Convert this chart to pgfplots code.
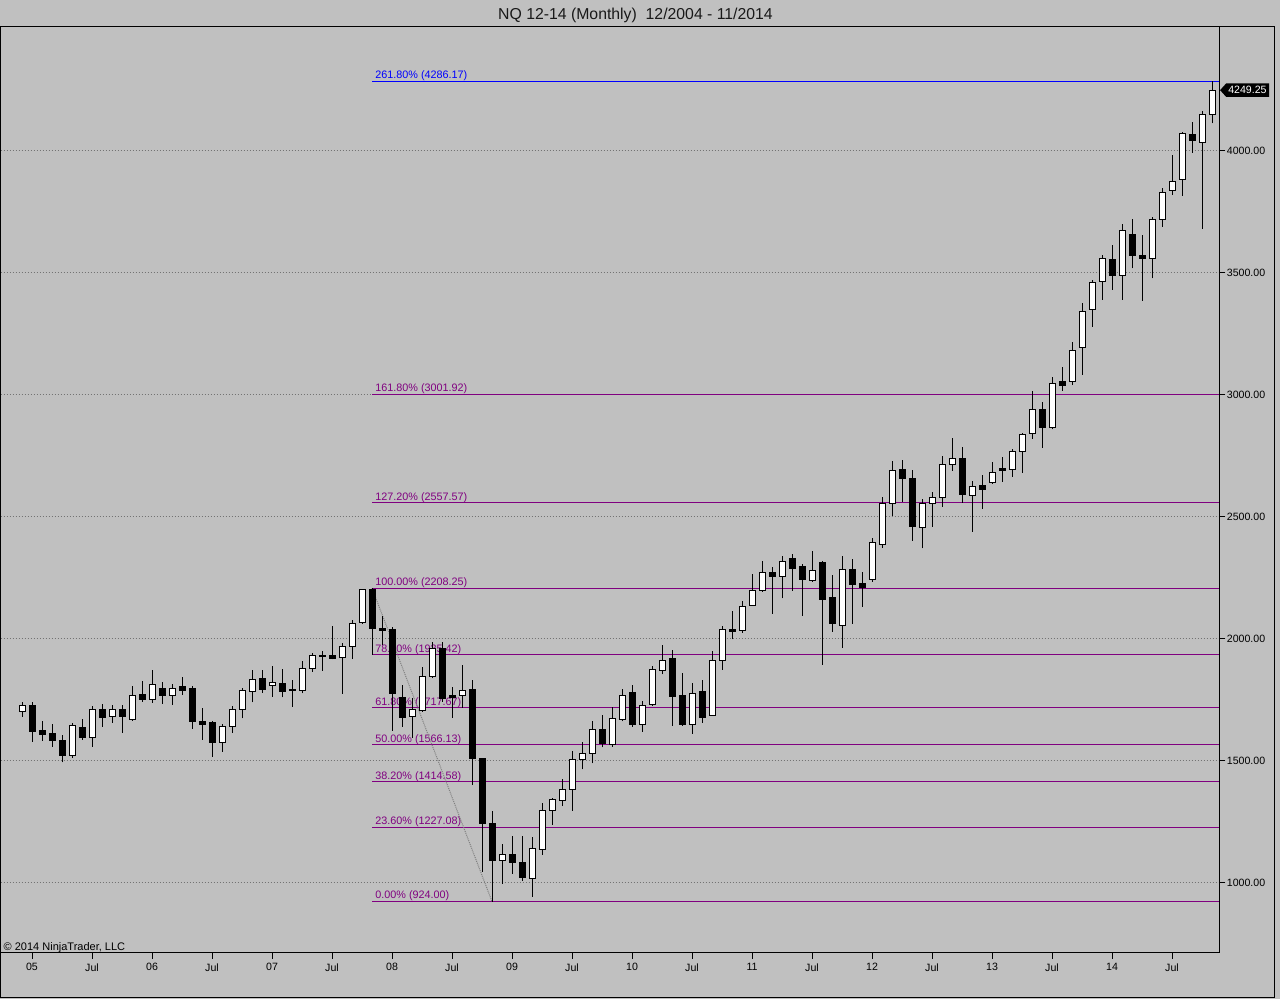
\documentclass[border=0pt]{standalone}
\usepackage{pgfplots}
\usepackage{pgfplotstable}
\pgfplotsset{compat=1.18}
\usepackage{fontspec}
\setmainfont{Liberation Sans}
\definecolor{bg}{RGB}{192,192,192}
\definecolor{fibpurple}{RGB}{128,0,128}
\definecolor{fibblue}{RGB}{0,0,255}
\pgfplotstableread{
i o h l c
0 1703.7 1741.8 1681.5 1725.4
1 1725.4 1741.8 1579.1 1620.0
2 1622.9 1663.9 1583.2 1607.8
3 1610.6 1651.6 1558.6 1583.2
4 1586.0 1606.5 1494.6 1521.7
5 1521.7 1655.7 1513.5 1643.4
6 1638.1 1672.1 1586.0 1595.5
7 1597.1 1725.4 1558.6 1709.0
8 1711.9 1733.6 1640.5 1679.1
9 1683.2 1728.3 1656.9 1709.0
10 1711.9 1728.3 1616.0 1681.5
11 1670.9 1807.4 1663.9 1769.2
12 1773.3 1827.8 1741.8 1750.0
13 1752.8 1872.9 1738.9 1815.5
14 1797.9 1823.7 1733.6 1767.6
15 1769.2 1816.8 1730.7 1797.9
16 1803.3 1844.2 1771.7 1788.1
17 1795.1 1807.4 1632.3 1661.0
18 1661.0 1718.4 1586.0 1650.4
19 1656.9 1665.1 1517.6 1575.0
20 1575.0 1651.6 1538.1 1642.2
21 1642.2 1725.4 1616.0 1711.9
22 1711.9 1799.2 1675.0 1786.9
23 1785.6 1872.9 1740.5 1834.8
24 1836.0 1872.9 1779.9 1793.8
25 1810.2 1889.3 1763.5 1822.5
26 1818.4 1877.0 1761.0 1784.0
27 1791.0 1831.9 1722.5 1786.9
28 1789.7 1911.0 1777.4 1879.9
29 1878.3 1941.4 1866.0 1933.2
30 1933.2 1950.8 1870.1 1927.4
31 1930.3 2053.3 1916.8 1918.0
32 1925.0 1982.4 1774.6 1968.4
33 1970.1 2077.8 1919.2 2064.3
34 2066.8 2204.9 2061.5 2203.7
35 2203.7 2208.25 1934.4 2042.2
36 2043.8 2094.2 1975.4 2035.6
37 2039.7 2047.9 1624.2 1774.6
38 1759.4 1811.4 1640.5 1679.1
39 1680.3 1759.4 1595.5 1711.9
40 1707.8 1886.5 1702.0 1845.5
41 1845.5 1988.9 1838.9 1959.0
42 1961.9 1988.9 1743.0 1756.9
43 1766.4 1804.5 1677.4 1761.0
44 1769.2 1893.4 1718.4 1788.1
45 1791.0 1831.9 1401.6 1509.4
46 1508.2 1510.0 1046.3 1241.8
47 1244.6 1295.1 924.0 1091.4
48 1094.2 1159.8 995.9 1117.6
49 1117.6 1192.6 1036.9 1083.2
50 1084.8 1192.6 1009.4 1023.3
51 1019.2 1189.7 943.8 1142.2
52 1135.2 1326.6 1114.7 1299.1
53 1296.3 1349.6 1237.7 1343.0
54 1337.3 1426.2 1315.5 1384.0
55 1384.0 1541.0 1296.3 1506.9
56 1506.9 1576.6 1466.0 1531.5
57 1531.5 1663.9 1490.5 1627.0
58 1627.0 1688.5 1556.1 1570.9
59 1568.4 1720.0 1558.6 1675.0
60 1670.9 1795.1 1662.7 1769.2
61 1779.8 1811.4 1640.5 1647.5
62 1650.4 1745.9 1618.8 1728.3
63 1732.4 1889.3 1725.4 1872.9
64 1871.7 1975.4 1855.3 1912.7
65 1918.0 1954.9 1644.6 1763.5
66 1766.4 1859.4 1643.4 1647.5
67 1650.4 1818.4 1610.6 1777.4
68 1782.8 1831.9 1656.9 1679.1
69 1685.6 1950.8 1684.4 1912.7
70 1912.7 2053.3 1872.9 2039.7
71 2039.7 2114.7 1998.7 2030.7
72 2032.8 2155.7 2024.6 2134.0
73 2138.1 2266.4 2135.2 2196.7
74 2197.9 2319.7 2193.8 2270.5
75 2270.5 2296.3 2103.7 2256.9
76 2256.9 2341.4 2166.8 2318.4
77 2327.8 2348.3 2197.9 2288.1
78 2295.1 2306.1 2094.2 2243.0
79 2240.6 2360.6 2234.8 2281.5
80 2311.5 2320.9 1893.4 2161.0
81 2168.0 2263.5 2029.9 2062.7
82 2054.5 2341.4 1964.3 2285.6
83 2282.8 2327.8 2062.7 2222.5
84 2225.4 2274.6 2132.4 2210.2
85 2243.0 2412.7 2234.8 2396.3
86 2388.1 2583.2 2372.9 2554.5
87 2554.5 2729.5 2505.3 2691.4
88 2695.5 2733.6 2561.5 2656.9
89 2658.6 2692.6 2402.8 2460.2
90 2457.8 2573.8 2371.7 2554.5
91 2556.1 2602.4 2460.2 2580.7
92 2580.7 2750.0 2542.2 2716.0
93 2716.0 2822.5 2688.5 2740.6
94 2740.6 2788.1 2558.6 2591.4
95 2586.0 2647.5 2439.7 2624.2
96 2627.0 2670.9 2532.8 2611.9
97 2642.2 2725.4 2635.2 2683.2
98 2696.7 2745.9 2644.6 2689.7
99 2695.5 2778.7 2665.1 2769.2
100 2769.2 2845.5 2681.5 2838.9
101 2843.0 3016.4 2820.9 2941.4
102 2941.4 2970.1 2784.0 2867.6
103 2866.0 3073.8 2859.4 3047.9
104 3056.1 3116.0 3017.6 3038.1
105 3054.5 3217.2 3041.0 3183.2
106 3195.5 3377.0 3082.0 3343.0
107 3351.2 3471.3 3279.9 3461.9
108 3464.3 3573.8 3389.3 3560.2
109 3553.3 3614.7 3430.3 3489.7
110 3489.7 3700.8 3389.3 3675.0
111 3655.7 3721.3 3518.4 3571.7
112 3569.7 3655.7 3385.2 3558.6
113 3560.2 3730.7 3478.3 3720.1
114 3720.1 3847.1 3689.7 3830.7
115 3838.9 3983.6 3819.7 3874.2
116 3884.0 4079.1 3816.8 4072.5
117 4068.4 4117.6 3993.0 4042.2
118 4035.6 4165.2 3680.3 4150.4
119 4150.4 4286.17 4113.5 4249.25
}\candles
\begin{document}
\begin{tikzpicture}
\useasboundingbox (0,0) rectangle (640pt,499.5pt);
\fill[bg] (0,0) rectangle (640pt,499.5pt);
\begin{axis}[
  at={(0.35pt,23pt)}, anchor=south west,
  scale only axis, width=609.3pt, height=463.15pt,
  xmin=-2.13, xmax=119.73, ymin=713.1, ymax=4509.4,
  axis line style={black, line width=0.5pt},
  xtick={1,7,...,115},
  xticklabels={05,Jul,06,Jul,07,Jul,08,Jul,09,Jul,10,Jul,11,Jul,12,Jul,13,Jul,14,Jul},
  ytick={1000,1500,...,4000},
  yticklabels={1000.00,1500.00,2000.00,2500.00,3000.00,3500.00,4000.00},
  xtick pos=bottom, ytick pos=right, yticklabel pos=right,
  tick align=outside, major tick length=3pt,
  tick style={black, line width=0.5pt},
  ymajorgrids,
  grid style={black!55, line width=0.5pt, dash pattern=on 0.5pt off 1pt},
  ticklabel style={font=\fontsize{5.3pt}{6pt}\selectfont, text=black},
  xticklabel style={inner sep=0pt, yshift=-2pt},
  yticklabel style={inner sep=0pt, xshift=0.6pt},
  clip=false,
]
% Fibonacci levels
\addplot [fibblue, line width=0.5pt] coordinates {(35.03,4286.17) (119.73,4286.17)};
\addplot [fibpurple, line width=0.5pt] coordinates {(35.03,3001.92) (119.73,3001.92)};
\addplot [fibpurple, line width=0.5pt] coordinates {(35.03,2557.57) (119.73,2557.57)};
\addplot [fibpurple, line width=0.5pt] coordinates {(35.03,2208.25) (119.73,2208.25)};
\addplot [fibpurple, line width=0.5pt] coordinates {(35.03,1935.42) (119.73,1935.42)};
\addplot [fibpurple, line width=0.5pt] coordinates {(35.03,1717.67) (119.73,1717.67)};
\addplot [fibpurple, line width=0.5pt] coordinates {(35.03,1566.13) (119.73,1566.13)};
\addplot [fibpurple, line width=0.5pt] coordinates {(35.03,1414.58) (119.73,1414.58)};
\addplot [fibpurple, line width=0.5pt] coordinates {(35.03,1227.08) (119.73,1227.08)};
\addplot [fibpurple, line width=0.5pt] coordinates {(35.03,924.00) (119.73,924.00)};
\begin{scope}[every node/.style={anchor=base west, inner sep=0pt, yshift=1.35pt, font=\fontsize{5.4pt}{6pt}\selectfont, text=fibpurple}]
\node[text=fibblue] at (axis cs:35.3,4286.17) {261.80\% (4286.17)};
\node at (axis cs:35.3,3001.92) {161.80\% (3001.92)};
\node at (axis cs:35.3,2557.57) {127.20\% (2557.57)};
\node at (axis cs:35.3,2208.25) {100.00\% (2208.25)};
\node at (axis cs:35.3,1935.42) {78.60\% (1935.42)};
\node at (axis cs:35.3,1717.67) {61.80\% (1717.67)};
\node at (axis cs:35.3,1566.13) {50.00\% (1566.13)};
\node at (axis cs:35.3,1414.58) {38.20\% (1414.58)};
\node at (axis cs:35.3,1227.08) {23.60\% (1227.08)};
\node at (axis cs:35.3,924.00) {0.00\% (924.00)};
\end{scope}
% trend line high to low
\addplot [black!50, line width=0.5pt, dash pattern=on 0.5pt off 0.5pt] coordinates {(35,2208.25) (47,924)};
% wicks
\addplot [draw=none, mark=none,
  error bars/.cd, y dir=plus, y explicit, error mark=none,
  error bar style={draw=black, solid, line width=0.5pt}]
  table [x=i, y=l, y error expr={\thisrow{h}-\thisrow{l}}] {\candles};
\coordinate (pm) at (axis cs:119.73,4249.25);
\end{axis}
\begin{axis}[
  at={(0.35pt,23pt)}, anchor=south west,
  scale only axis, width=609.3pt, height=463.15pt,
  xmin=-2.13, xmax=119.73, ymin=713.1, ymax=4509.4,
  hide axis, ybar stacked, bar width=3pt,
]
\addplot [draw=none, fill=none] table [x=i, y expr={min(\thisrow{o},\thisrow{c})}] {\candles};
\addplot [draw=black, fill=white, line width=0.5pt] table [x=i, y expr={max(\thisrow{c}-\thisrow{o},0)}] {\candles};
\addplot [draw=black, fill=black, line width=0.5pt] table [x=i, y expr={max(\thisrow{o}-\thisrow{c},0)}] {\candles};
\end{axis}
% last price marker
\fill[black] ([xshift=0.4pt]pm) -- ++(3pt,3.35pt) -- ++(21.5pt,0pt) -- ++(0pt,-6.7pt) -- ++(-21.5pt,0pt) -- cycle;
\node[anchor=west, inner sep=0pt, text=white, font=\fontsize{5.3pt}{6pt}\selectfont] at ([xshift=4.3pt]pm) {4249.25};
\draw[black, line width=0.5pt] (0.35pt,0.75pt) rectangle (637.25pt,486.15pt);
\node[anchor=base, inner sep=0pt, font=\fontsize{7.9pt}{9pt}\selectfont, text=black!90] at (317.75pt,489.6pt) {NQ 12-14 (Monthly)\ \ 12/2004 - 11/2014};
\node[anchor=base west, inner sep=0pt, font=\fontsize{5.5pt}{6pt}\selectfont] at (1.65pt,24.2pt) {\textcopyright\ 2014 NinjaTrader, LLC};
\end{tikzpicture}
\end{document}
